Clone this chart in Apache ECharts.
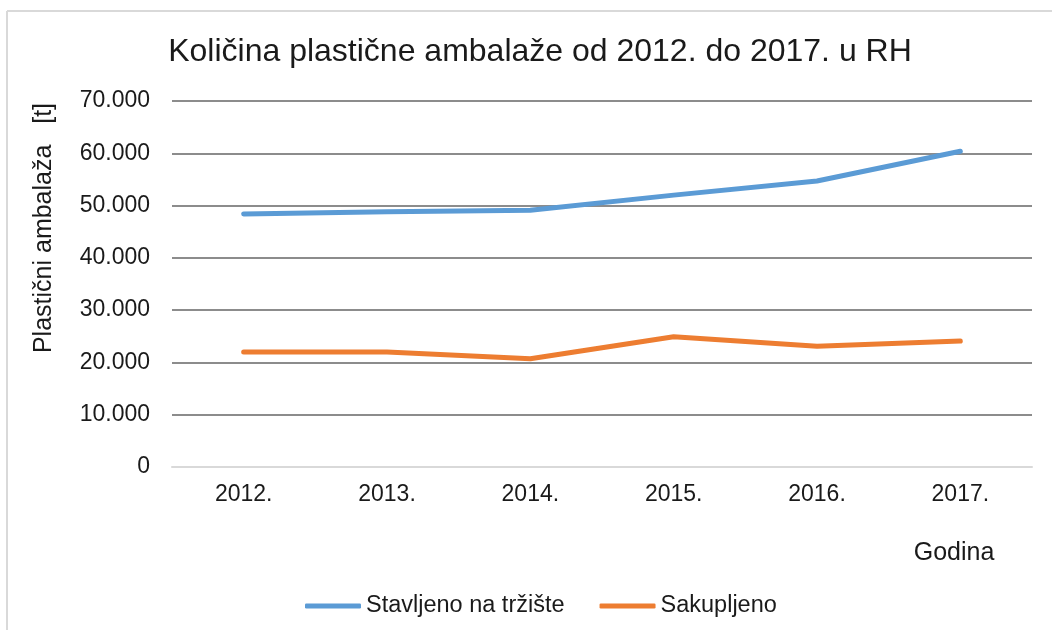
<!DOCTYPE html>
<html>
<head>
<meta charset="utf-8">
<script src="https://cdn.jsdelivr.net/npm/echarts@6/dist/echarts.min.js"></script>
<style>
  html, body { margin: 0; padding: 0; background: #fff; }
  #chart { width: 1052px; height: 630px; }
</style>
</head>
<body>
<div id="chart"></div>
<script>
const years = ['2012.', '2013.', '2014.', '2015.', '2016.', '2017.'];
const stavljeno = [48400, 48800, 49100, 52000, 54700, 60400];
const sakupljeno = [22000, 22000, 20700, 24900, 23100, 24100];

const font = '"Liberation Sans", Arial, sans-serif';
const ink = '#1a1a1a';

// 70000 -> 70.000
const fmt = (v) => String(v).replace(/\B(?=(\d{3})+(?!\d))/g, '.');

const chart = echarts.init(document.getElementById('chart'), null, { renderer: 'canvas' });
chart.setOption({
  animation: false,
  textStyle: { fontFamily: font },
  title: {
    text: 'Količina plastične ambalaže od 2012. do 2017. u RH',
    left: 535, top: 31, textAlign: 'center',
    textStyle: { fontFamily: font, fontSize: 32, fontWeight: 'normal', color: ink }
  },
  graphic: [
    // chart area border (only top and left visible)
    { type: 'line', shape: { x1: 7, y1: 11, x2: 1052, y2: 11 }, style: { stroke: '#d9d9d9', lineWidth: 2 } },
    { type: 'line', shape: { x1: 7, y1: 11, x2: 7, y2: 630 }, style: { stroke: '#d9d9d9', lineWidth: 2 } },
    {
      type: 'text', x: 44, y: 228, rotation: Math.PI / 2,
      style: { text: 'Plastični ambalaža   [t]', font: '25px ' + font, fill: ink, align: 'center', verticalAlign: 'middle' }
    },
    {
      type: 'text', x: 954, y: 553,
      style: { text: 'Godina', font: '25px ' + font, fill: ink, align: 'center', verticalAlign: 'middle' }
    }
  ],
  legend: {
    top: 589, left: 300,
    itemWidth: 56, itemHeight: 5, itemGap: 35,
    icon: 'roundRect',
    textStyle: { fontFamily: font, fontSize: 23.5, color: ink },
    data: ['Stavljeno na tržište', 'Sakupljeno']
  },
  grid: { left: 172, right: 20, top: 101, bottom: 163, containLabel: false },
  xAxis: {
    type: 'category',
    data: years,
    boundaryGap: true,
    axisLine: { lineStyle: { color: '#d9d9d9', width: 2 } },
    axisTick: { show: false },
    axisLabel: { fontFamily: font, fontSize: 23, color: ink, margin: 16 }
  },
  yAxis: {
    type: 'value',
    min: 0, max: 70000, interval: 10000,
    axisLine: { show: false },
    axisTick: { show: false },
    axisLabel: { fontFamily: font, fontSize: 23, color: ink, margin: 22, formatter: fmt },
    splitLine: { lineStyle: { color: '#8c8c8c', width: 2 } }
  },
  series: [
    {
      name: 'Stavljeno na tržište', type: 'line', data: stavljeno,
      symbol: 'none', lineStyle: { color: '#5B9BD5', width: 5, cap: 'round' },
      itemStyle: { color: '#5B9BD5' }
    },
    {
      name: 'Sakupljeno', type: 'line', data: sakupljeno,
      symbol: 'none', lineStyle: { color: '#ED7D31', width: 5, cap: 'round' },
      itemStyle: { color: '#ED7D31' }
    }
  ]
});
</script>
</body>
</html>
